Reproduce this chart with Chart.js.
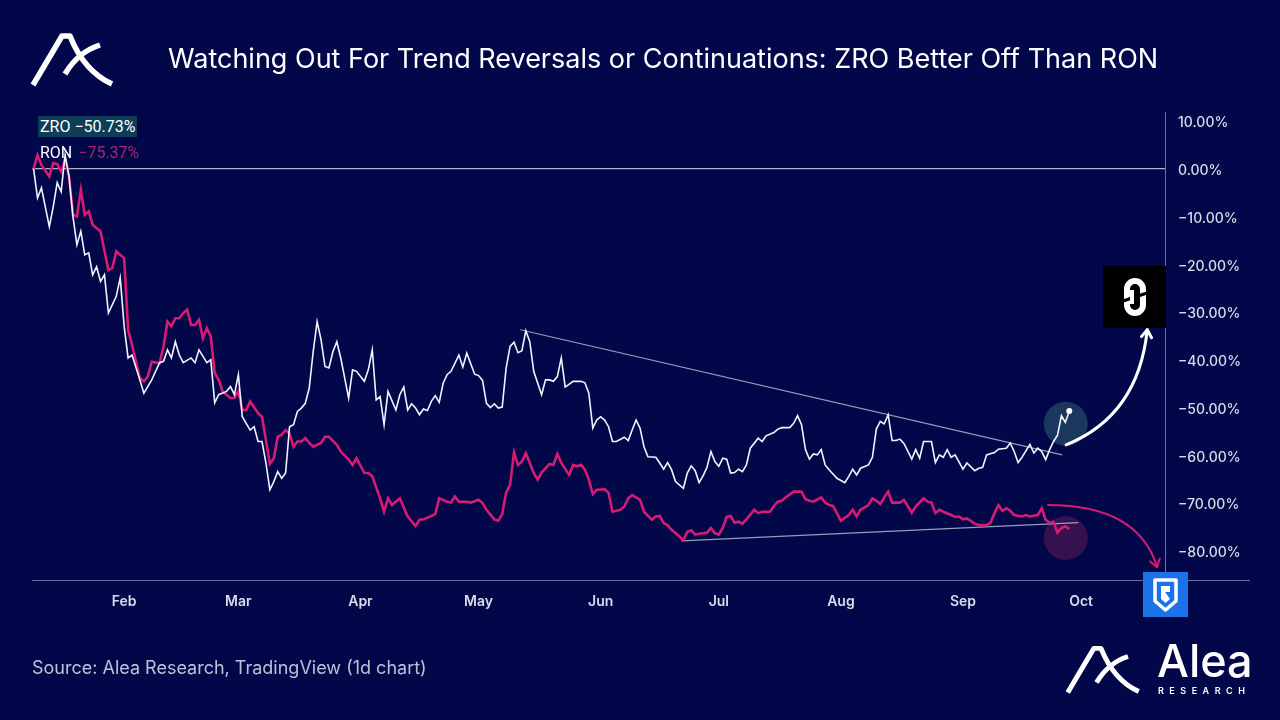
<!DOCTYPE html>
<html>
<head>
<meta charset="utf-8">
<script src="https://cdn.jsdelivr.net/npm/chart.js@4.4.1/dist/chart.umd.min.js"></script>
<style>
  html,body{margin:0;padding:0;background:#02074a;}
  #wrap{position:relative;width:1280px;height:720px;overflow:hidden;background:#02074a;font-family:Inter,Roboto,sans-serif;}
  #c{position:absolute;left:0;top:0;}
  .title{position:absolute;left:168px;top:42px;color:#fff;font-size:27px;font-weight:400;white-space:nowrap;}
  .legend{position:absolute;left:38px;font-family:Roboto,sans-serif;font-size:16px;white-space:nowrap;}
  .footer{position:absolute;left:32px;top:657px;color:#bfc2d6;font-size:18px;white-space:nowrap;}
</style>
</head>
<body>
<div id="wrap">
  <canvas id="c" width="1280" height="720" style="width:1280px;height:720px"></canvas>
  <svg style="position:absolute;left:30px;top:30px" width="85" height="58" viewBox="30 30 85 58">
    <path d="M33,85 L62,36 L70,36 C78,56 92,75 112,84" fill="none" stroke="#fff" stroke-width="5.5" stroke-linejoin="round"/>
    <path d="M65,74 Q78,52 100,45" fill="none" stroke="#fff" stroke-width="5.5"/>
  </svg>
  <div class="title">Watching Out For Trend Reversals or Continuations: ZRO Better Off Than RON</div>
  <div id="lgZ" class="legend" style="top:117px;"></div>
  <div id="lgR" class="legend" style="top:143px;"></div>
  <div style="position:absolute;left:1103px;top:266px;width:63px;height:62px;background:#000;">
    <svg width="63" height="62" viewBox="0 0 63 62">
      <rect x="24" y="15" width="16" height="32" rx="8" fill="none" stroke="#fff" stroke-width="6"/>
      <line x1="20" y1="35" x2="44" y2="27" stroke="#000" stroke-width="3"/>
      <rect x="27" y="24" width="4" height="14" fill="#fff"/>
    </svg>
  </div>
  <div style="position:absolute;left:1143px;top:572px;width:45px;height:45px;background:#1c73e8;">
    <svg width="45" height="45" viewBox="0 0 45 45">
      <path d="M12,8 H33 V29 L22.5,38 L12,29 Z" fill="none" stroke="#fff" stroke-width="3.5" stroke-linejoin="round"/>
      <path d="M18,14 H27 V20 H22 L27,27 L22.5,31 L18,27 Z" fill="#fff"/>
    </svg>
  </div>
  <div class="footer">Source: Alea Research, TradingView (1d chart)</div>
  <svg style="position:absolute;left:1065px;top:643px" width="76.5" height="52.2" viewBox="30 30 85 58">
    <path d="M33,85 L62,36 L70,36 C78,56 92,75 112,84" fill="none" stroke="#fff" stroke-width="5.5" stroke-linejoin="round"/>
    <path d="M65,74 Q78,52 100,45" fill="none" stroke="#fff" stroke-width="5.5"/>
  </svg>
  <div style="position:absolute;left:1157px;top:636px;color:#fff;font-size:45px;font-weight:500;line-height:50px;white-space:nowrap;">Alea</div>
  <div style="position:absolute;left:1158px;top:685px;color:#fff;font-size:9px;font-weight:600;letter-spacing:5.5px;white-space:nowrap;">RESEARCH</div>
</div>
<script>
// ---- Data (day of year 2024, Jan 1 = 0; % change) ----
const zroDays = [8,9,10,12,13,14,15,16,17,18,19,20,21,22,23,24,25,26,27,29,30,31,32,33,35,36,38,40,41,42,43,44,45,46,48,49,50,52,53,54,55,57,58,59,60,61,63,64,65,66,67,68,69,70,71,72,73,74,75,76,77,78,79,80,81,82,83,84,85,86,88,89,90,92,93,94,95,96,97,98,100,101,102,103,104,105,106,107,108,109,110,111,112,113,114,116,117,118,120,121,122,123,124,125,126,127,128,129,130,131,132,133,134,135,137,138,139,140,141,142,143,145,147,148,149,150,151,152,153,154,155,156,158,159,160,161,162,163,164,166,167,168,169,170,171,173,174,175,176,177,178,179,180,181,182,183,184,185,186,187,188,189,190,192,193,194,196,197,198,200,201,202,203,204,205,206,207,208,209,210,212,214,215,216,217,218,220,221,222,223,224,225,226,227,228,229,231,232,233,234,236,237,238,239,240,241,242,244,245,247,248,249,250,252,253,255,256,257,258,259,261,262,263,264,265,266,267,268,269,270,271];
const zroValues = [0,-6.1,-4.0,-12.1,-7.9,-2.9,-4.8,2.9,-1.6,-10.0,-15.9,-13.1,-18.0,-17.6,-22.2,-20.5,-23.6,-22.2,-30.2,-26.7,-22.8,-33.0,-39.6,-39.0,-44.2,-47.0,-44.2,-40.6,-40.3,-37.9,-39.6,-36.2,-39.0,-40.6,-39.6,-40.6,-37.9,-40.6,-40.0,-49.0,-47.3,-46.6,-45.6,-47.3,-43.1,-51.9,-54.7,-54.0,-57.1,-57.1,-61.6,-67.2,-65.5,-63.4,-64.8,-63.7,-54.0,-53.6,-50.8,-50.1,-49.1,-45.9,-38.3,-32.0,-35.8,-41.4,-41.7,-38.3,-36.2,-39.6,-48.0,-42.1,-42.4,-44.5,-42.1,-37.9,-48.4,-47.7,-53.6,-46.6,-50.5,-47.3,-45.7,-50.5,-49.2,-50.1,-51.5,-50.3,-50.6,-48.7,-47.5,-48.9,-44.9,-43.1,-42.4,-39.0,-41.5,-38.6,-43.0,-43.3,-44.3,-49.1,-50.0,-49.2,-50.1,-49.9,-41.7,-37.2,-36.3,-38.5,-38.1,-33.9,-36.2,-42.4,-47.3,-44.2,-44.2,-44.5,-43.5,-39.6,-45.7,-44.5,-44.5,-44.8,-47.0,-54.3,-52.6,-51.9,-52.6,-54.0,-57.1,-57.1,-56.2,-56.9,-54.7,-52.6,-54.3,-58.2,-60.3,-60.4,-61.6,-62.9,-61.5,-63.0,-65.5,-66.9,-63.7,-62.2,-63.2,-65.7,-64.3,-62.5,-59.2,-61.3,-62.3,-60.6,-60.8,-63.7,-63.6,-62.9,-63.4,-62.0,-58.5,-56.4,-57.1,-55.9,-55.2,-54.5,-54.2,-54.2,-53.3,-51.7,-53.6,-58.8,-60.8,-59.7,-59.9,-58.8,-62.0,-63.0,-64.8,-65.7,-64.4,-62.9,-64.1,-62.7,-62.0,-60.4,-54.5,-52.9,-53.4,-51.5,-56.9,-56.9,-56.6,-57.5,-60.8,-58.8,-60.6,-57.1,-57.1,-61.5,-59.9,-60.4,-58.8,-60.4,-59.9,-62.9,-61.6,-63.2,-62.7,-62.5,-59.9,-59.4,-58.7,-58.5,-57.4,-59.2,-61.5,-60.4,-57.7,-59.5,-58.5,-59.2,-60.9,-58.8,-57.1,-55.8,-51.7,-53.1,-50.73];

const ronDays = [8,9,10,12,13,14,15,16,17,18,19,20,21,22,23,25,27,28,29,31,32,33,35,36,37,38,40,41,42,43,44,45,46,47,48,49,50,51,52,53,54,55,56,57,58,59,60,61,62,63,65,66,67,68,69,70,71,72,73,74,75,76,77,78,79,81,82,83,85,86,88,89,90,92,93,94,96,97,98,99,101,103,105,106,107,109,110,111,113,114,115,116,118,119,121,122,123,125,126,127,128,129,130,131,132,133,134,135,136,137,139,140,141,142,144,145,146,147,148,149,150,151,153,154,155,157,158,159,160,162,163,165,166,167,168,169,170,172,173,174,175,176,177,179,180,181,182,183,184,185,186,187,188,189,191,192,193,195,196,197,198,199,201,203,204,205,206,208,209,210,211,212,213,215,216,217,218,220,221,222,223,224,225,226,228,229,231,232,234,235,236,237,238,239,241,242,243,244,245,247,248,250,251,252,253,254,255,256,257,259,260,261,263,264,265,266,267,268,269,270,271];
const ronValues = [0,2.9,0.8,-1.6,1.2,1.0,-0.6,1.9,-1.6,-9.6,-10.0,-4.4,-9.6,-8.9,-11.7,-13.1,-21.2,-20.8,-17.3,-18.7,-33.7,-36.9,-43.8,-44.5,-43.5,-40.4,-40.7,-37.2,-32.0,-33.0,-31.3,-31.3,-30.2,-29.5,-32.7,-32.7,-31.6,-35.5,-33.4,-35.1,-42.8,-44.2,-46.6,-47.3,-48.0,-48.0,-46.6,-50.5,-50.5,-48.7,-51.2,-51.9,-56.8,-61.8,-60.6,-56.1,-55.7,-54.7,-55.4,-58.2,-57.1,-57.1,-56.4,-57.4,-58.2,-57.4,-56.1,-56.1,-57.8,-59.2,-60.9,-62.0,-60.6,-63.7,-63.7,-64.4,-69.0,-71.8,-69.0,-70.4,-69.0,-72.8,-74.8,-73.5,-73.4,-72.7,-72.3,-69.0,-69.7,-69.9,-68.6,-69.7,-69.7,-69.9,-69.3,-70.0,-71.4,-73.4,-73.7,-72.3,-67.8,-66.2,-59.4,-62.0,-61.3,-59.5,-61.6,-63.7,-65.1,-63.6,-61.8,-62.0,-59.7,-61.6,-64.1,-62.0,-62.3,-62.0,-63.0,-65.1,-68.1,-67.2,-67.1,-67.8,-71.8,-71.4,-70.7,-69.0,-68.3,-69.3,-71.8,-73.5,-72.8,-72.7,-74.2,-74.6,-75.6,-77.0,-77.8,-76.0,-75.7,-76.6,-76.4,-76.2,-75.2,-76.3,-76.6,-75.2,-72.9,-72.7,-74.1,-73.9,-74.3,-73.4,-71.4,-72.1,-71.8,-71.8,-70.6,-69.7,-69.5,-68.8,-67.6,-67.6,-69.2,-69.5,-69.7,-68.8,-69.9,-70.4,-70.6,-72.1,-73.7,-72.5,-71.4,-72.8,-71.4,-70.4,-69.0,-69.5,-70.2,-68.8,-67.6,-69.9,-69.9,-69.3,-72.0,-70.7,-69.0,-69.7,-69.9,-72.1,-71.4,-71.8,-72.5,-72.9,-72.8,-73.4,-73.2,-74.3,-74.6,-74.6,-74.1,-72.1,-70.4,-71.6,-71.1,-71.6,-72.5,-72.8,-72.5,-72.8,-72.5,-71.1,-73.5,-74.1,-73.9,-76.2,-75.2,-74.9,-75.37];

// Trend lines drawn on the original (day, %)
const upperTrendDays = [131.6, 269.2];
const upperTrendValues = [-33.7, -59.9];
const lowerTrendDays = [172.5, 273.3];
const lowerTrendValues = [-77.9, -74.1];

// Axis ticks
const monthDays = [31, 60, 91, 121, 152, 182, 213, 244, 274];
const monthLabels = ['Feb','Mar','Apr','May','Jun','Jul','Aug','Sep','Oct'];
const yTicks = [10, 0, -10, -20, -30, -40, -50, -60, -70, -80];

// Annotation anchors in data units (day, %)
const zroCircle = [270.1, -53.4];
const ronCircle = [270.1, -77.3];
const zroArrow = [[270.2, -57.8], [288.5, -51.7], [290.8, -33.7]];
const ronArrow = [[265.6, -70.4], [288.5, -70.4], [293.3, -83.4]];

const pts = (d, v) => d.map((x, i) => ({x, y: v[i]}));
const fmt = v => (v < 0 ? '\u2212' : '') + Math.abs(v).toFixed(2) + '%';

const ZRO_C = '#f2f3ff', RON_C = '#d81b72';

document.getElementById('lgZ').innerHTML =
  '<span style="background:#0d3d57;color:#fff;padding:1px 2px;">ZRO ' + fmt(zroValues[zroValues.length-1]) + '</span>';
document.getElementById('lgR').innerHTML =
  '<span style="color:#fff;padding:1px 2px;">RON</span> <span style="color:#a4286f">' + fmt(ronValues[ronValues.length-1]) + '</span>';

const annot = {
  id: 'annot',
  beforeDatasetsDraw(chart) {
    const {ctx, scales:{x, y}} = chart;
    ctx.save();
    ctx.fillStyle = 'rgba(50,95,110,0.55)';
    ctx.beginPath(); ctx.arc(x.getPixelForValue(zroCircle[0]), y.getPixelForValue(zroCircle[1]), 22, 0, Math.PI*2); ctx.fill();
    ctx.fillStyle = 'rgba(120,28,88,0.45)';
    ctx.beginPath(); ctx.arc(x.getPixelForValue(ronCircle[0]), y.getPixelForValue(ronCircle[1]), 22, 0, Math.PI*2); ctx.fill();
    ctx.restore();
  },
  afterDatasetsDraw(chart) {
    const {ctx, scales:{x, y}, chartArea} = chart;
    const drawArrow = (arr, color, w) => {
      const p = arr.map(a => [x.getPixelForValue(a[0]), y.getPixelForValue(a[1])]);
      ctx.save();
      ctx.strokeStyle = color; ctx.lineWidth = w; ctx.lineCap = 'round'; ctx.lineJoin = 'round';
      ctx.beginPath(); ctx.moveTo(p[0][0], p[0][1]);
      ctx.quadraticCurveTo(p[1][0], p[1][1], p[2][0], p[2][1]); ctx.stroke();
      const ang = Math.atan2(p[2][1]-p[1][1], p[2][0]-p[1][0]);
      const L = 9;
      ctx.beginPath();
      ctx.moveTo(p[2][0] - L*Math.cos(ang-0.6), p[2][1] - L*Math.sin(ang-0.6));
      ctx.lineTo(p[2][0], p[2][1]);
      ctx.lineTo(p[2][0] - L*Math.cos(ang+0.6), p[2][1] - L*Math.sin(ang+0.6));
      ctx.stroke();
      ctx.restore();
    };
    drawArrow(zroArrow, '#ffffff', 3);
    drawArrow(ronArrow, RON_C, 2);
    ctx.save();
    ctx.strokeStyle = 'rgba(150,156,196,0.7)'; ctx.lineWidth = 1;
    ctx.beginPath(); ctx.moveTo(chartArea.right, chartArea.bottom + 0.5); ctx.lineTo(chartArea.right + 85, chartArea.bottom + 0.5); ctx.stroke();
    ctx.restore();
  }
};

new Chart(document.getElementById('c'), {
  type: 'line',
  data: {
    datasets: [
      { label: 'ZRO', data: pts(zroDays, zroValues), borderColor: ZRO_C, borderWidth: 1.6, tension: 0,
        pointRadius: c => c.dataIndex === zroDays.length - 1 ? 3 : 0, pointBackgroundColor: '#fff', pointBorderWidth: 0 },
      { label: 'RON', data: pts(ronDays, ronValues), borderColor: RON_C, borderWidth: 2.6, tension: 0, pointRadius: 0 },
      { label: 'upper', data: pts(upperTrendDays, upperTrendValues), borderColor: 'rgba(190,194,212,0.8)', borderWidth: 1.2, pointRadius: 0 },
      { label: 'lower', data: pts(lowerTrendDays, lowerTrendValues), borderColor: 'rgba(190,194,212,0.8)', borderWidth: 1.2, pointRadius: 0 }
    ]
  },
  options: {
    responsive: false,
    animation: false,
    devicePixelRatio: 1,
    layout: { padding: { left: 32, right: 0, top: 112, bottom: 100 } },
    plugins: { legend: { display: false }, tooltip: { enabled: false } },
    scales: {
      x: {
        type: 'linear', min: 7.6, max: 295.3,
        afterBuildTicks: s => { s.ticks = monthDays.map(v => ({value: v})); },
        afterFit: s => { s.height = 40; },
        grid: { display: false, drawTicks: false },
        border: { display: true, color: 'rgba(150,156,196,0.7)' },
        ticks: { padding: 13, autoSkip: false, maxRotation: 0, color: '#d9dbe8',
          font: { family: 'Inter, Roboto, sans-serif', size: 14, weight: '600' },
          callback: v => monthLabels[monthDays.indexOf(v)] ?? '' }
      },
      y: {
        type: 'linear', position: 'right', min: -86.1, max: 11.9,
        afterBuildTicks: s => { s.ticks = yTicks.map(v => ({value: v})); },
        afterFit: s => { s.width = 115; },
        grid: { drawTicks: false, color: c => c.tick && c.tick.value === 0 ? 'rgba(205,208,225,0.85)' : 'transparent', lineWidth: 1.2 },
        border: { display: true, color: 'rgba(150,156,196,0.7)' },
        ticks: { padding: 13, labelOffset: 2, color: '#d9dbe8',
          font: { family: 'Inter, Roboto, sans-serif', size: 14, weight: '500' },
          callback: v => fmt(v) }
      }
    }
  },
  plugins: [annot]
});
</script>
</body>
</html>
